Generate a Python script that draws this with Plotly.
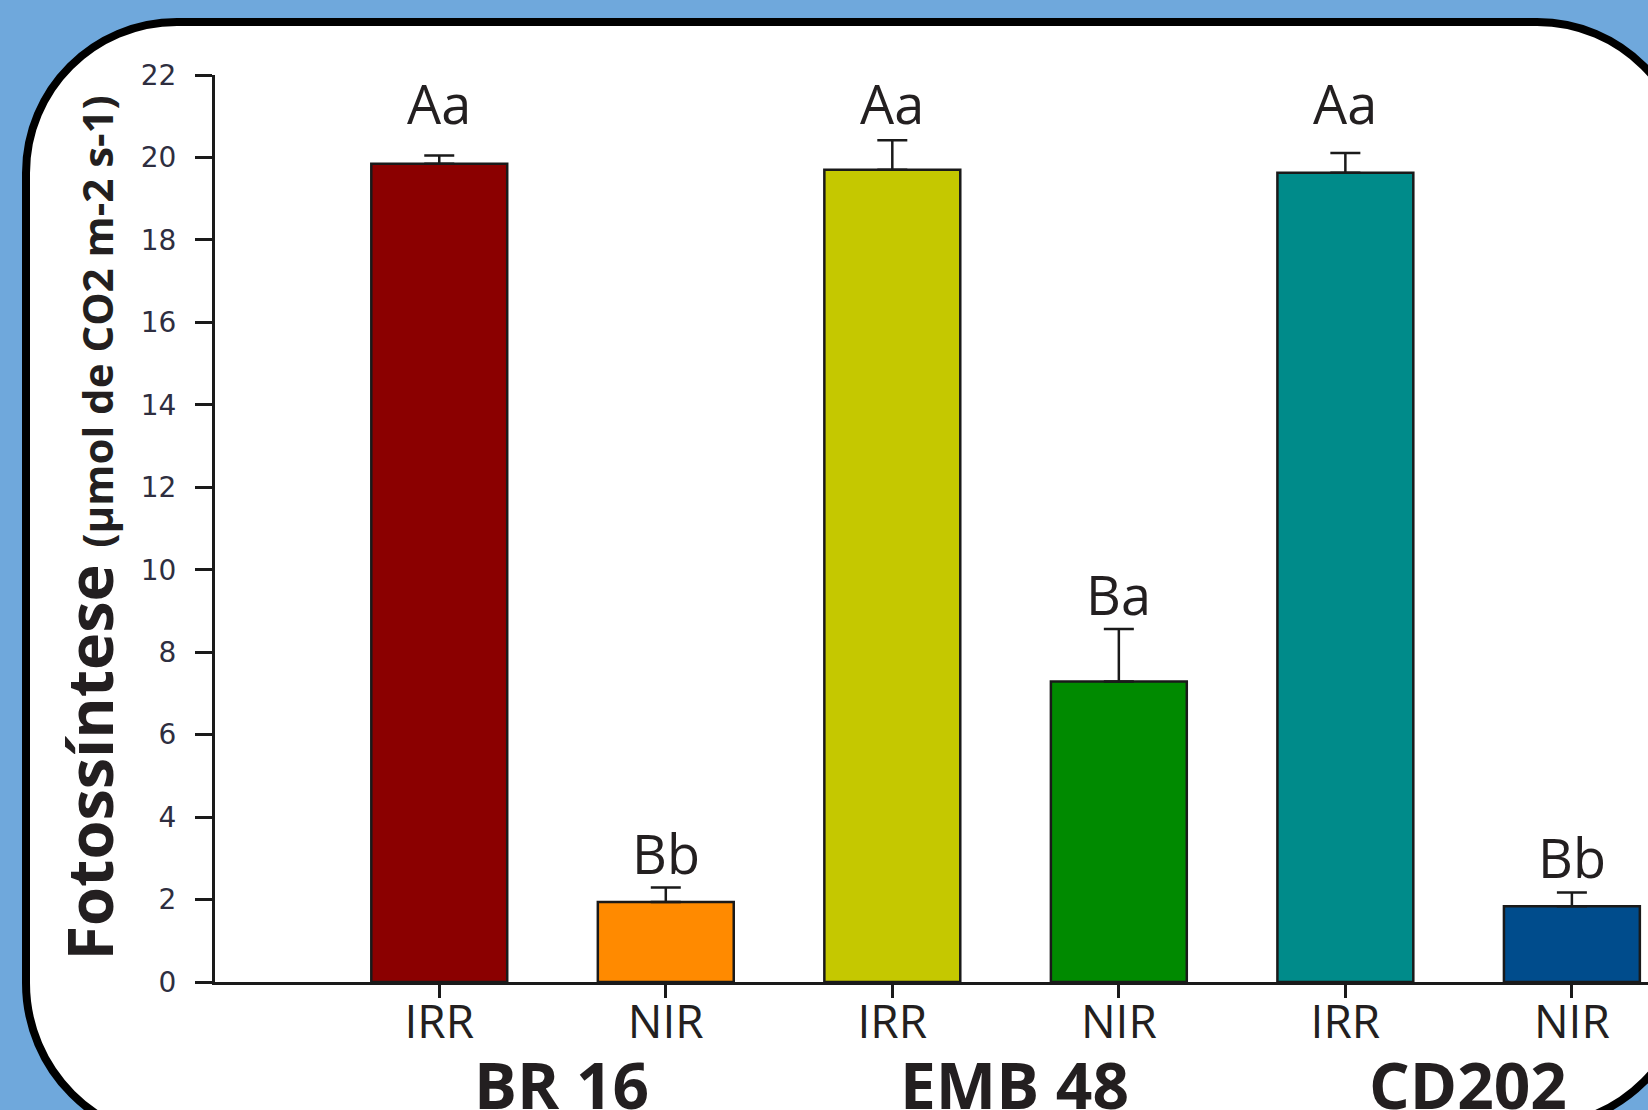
import plotly.graph_objects as go
import numpy as np

# ---------------- data ----------------
treatments = ["IRR", "NIR", "IRR", "NIR", "IRR", "NIR"]
cultivars = ["BR 16", "EMB 48", "CD202"]
photosynthesis = [19.85, 1.94, 19.70, 7.29, 19.63, 1.84]
std_error = [0.20, 0.35, 0.72, 1.27, 0.48, 0.33]
letters = ["Aa", "Bb", "Aa", "Ba", "Aa", "Bb"]
y_ticks = list(range(0, 23, 2))

# ---------------- style ----------------
bar_colors = ["#8B0000", "#FF8A00", "#C5C800", "#008A00", "#008B8A", "#004C8C"]
TXT = "#231F20"
AX = "#1a1a1a"
W, H = 1648, 1110
ML, MR, MT, MB = 215, 0, 75, 128
PW, PH = W - ML - MR, H - MT - MB

def px(xp):
    return (xp - ML) / PW

def py(yp):
    return (H - MB - yp) / PH

pos = np.arange(len(photosynthesis))

fig = go.Figure()
fig.add_trace(go.Bar(
    x=pos, y=photosynthesis, width=0.6,
    marker=dict(color=bar_colors, line=dict(color=AX, width=2.5)),
    error_y=dict(type="data", symmetric=False, array=std_error,
                 arrayminus=[0] * len(std_error), color=AX, thickness=2.5, width=15),
    showlegend=False, hoverinfo="skip",
))

# significance letters
tops = [v + e for v, e in zip(photosynthesis, std_error)]
tall_top = max(t for t, v in zip(tops, photosynthesis) if v > 10)
for i, (lab, t, v) in enumerate(zip(letters, tops, photosynthesis)):
    yl = (tall_top + 0.9) if v > 10 else (t + 0.85)
    fig.add_annotation(x=pos[i], y=yl, xref="x", yref="y", text=lab, showarrow=False,
                       font=dict(family="Open Sans", size=54, color=TXT),
                       xanchor="center", yanchor="middle")

# cultivar group labels
for g, name in enumerate(cultivars):
    fig.add_annotation(x=(pos[2 * g] + pos[2 * g + 1]) / 2, y=py(1084), xref="x", yref="paper",
                       text=f"<b>{name}</b>", showarrow=False, xshift=9,
                       font=dict(family="Open Sans", size=64, color=TXT),
                       xanchor="center", yanchor="middle")

# y-axis title
fig.add_annotation(
    x=px(88), y=0.5, xref="paper", yref="paper", textangle=-90, showarrow=False,
    text="<b>Fotossíntese</b> <b><span style='font-size:42px'>(μmol de CO2 m-2 s-1)</span></b>",
    font=dict(family="Open Sans", size=63, color=TXT), xanchor="center", yanchor="middle")

# rounded frame (decoration)
k = 0.5523
R1, R4 = 151, 157
L, T, Rr = 26, 22, 1688
Bb_r, Bb_l = 1126, 1140
def P(x, y):
    return f"{px(x):.5f},{py(y):.5f}"
path = (
    f"M {P(L, T + R1)} "
    f"C {P(L, T + R1 - k * R1)} {P(L + R1 - k * R1, T)} {P(L + R1, T)} "
    f"L {P(Rr - R1, T)} "
    f"C {P(Rr - R1 + k * R1, T)} {P(Rr, T + R1 - k * R1)} {P(Rr, T + R1)} "
    f"L {P(Rr, Bb_r - R1)} "
    f"C {P(Rr, Bb_r - R1 + k * R1)} {P(Rr - R1 + k * R1, Bb_r)} {P(Rr - R1, Bb_r)} "
    f"L {P(L + R4, Bb_l)} "
    f"C {P(L + R4 - k * R4, Bb_l)} {P(L, Bb_l - R4 + k * R4)} {P(L, Bb_l - R4)} Z"
)
fig.add_shape(type="path", path=path, xref="paper", yref="paper",
              fillcolor="white", line=dict(color="black", width=8), layer="below")

fig.update_layout(
    width=W, height=H, autosize=False,
    margin=dict(l=ML, r=MR, t=MT, b=MB, pad=0),
    paper_bgcolor="#6FA8DC", plot_bgcolor="rgba(0,0,0,0)",
    template="none", bargap=0.4,
    xaxis=dict(range=[-0.99, 5.336], tickvals=pos, ticktext=treatments,
               ticks="outside", ticklen=13, tickwidth=3, tickcolor=AX,
               showline=True, linewidth=3, linecolor=AX, showgrid=False, zeroline=False,
               tickfont=dict(family="Open Sans", size=46, color=TXT),
               ticklabelstandoff=-15, automargin=False),
    yaxis=dict(range=[0, 22], tickvals=y_ticks, ticks="outside", ticklen=17, tickwidth=3,
               tickcolor=AX, showline=True, linewidth=3, linecolor=AX, showgrid=False,
               zeroline=False,
               tickfont=dict(family="DejaVu Sans", size=28, color="#2e2e40"),
               ticklabelstandoff=13, automargin=False),
)

fig.write_html(
    "out.html",
    config={"displayModeBar": False, "staticPlot": True},
    post_script="document.body.style.margin='0';document.body.style.overflow='hidden';"
                "document.body.style.background='#6FA8DC';",
)
